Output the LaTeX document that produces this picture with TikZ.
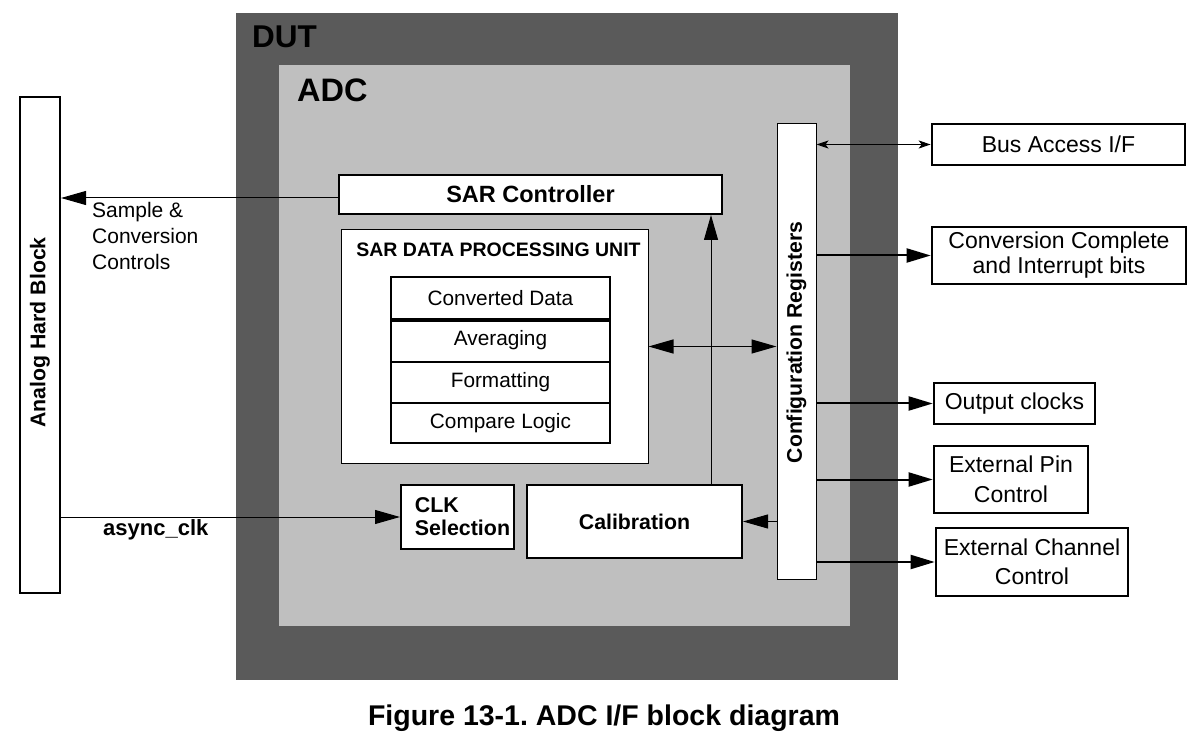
\documentclass[tikz,border=0pt]{standalone}
\usepackage{fontspec}
\setmainfont{Liberation Sans}
\usetikzlibrary{arrows.meta,calc}
\definecolor{dutgray}{HTML}{5A5A5A}
\definecolor{adcgray}{HTML}{BFBFBF}
\newcommand{\myfs}[2]{\fontsize{#1}{#2}\selectfont}
\frenchspacing
\begin{document}
\begin{tikzpicture}[x=1pt,y=-1pt,
  box/.style={draw, fill=white, inner sep=0pt, line width=2pt},
  thinbox/.style={box, line width=1pt},
  extbox/.style={box, line width=2.6pt, align=center, font=\myfs{23}{26}},
  rowbox/.style={box, line width=1.8pt, minimum width=219pt, font=\myfs{20.8}{24}},
  bigarr/.style={-{Triangle[length=25pt,width=14pt]}, line width=1pt},
  outarr/.style={-{Triangle[length=24pt,width=14pt]}, line width=2pt},
  dblarr/.style={{Triangle[length=25pt,width=14pt]}-{Triangle[length=25pt,width=14pt]}, line width=1.2pt},
  busarr/.style={{Stealth[length=12pt,width=8pt,inset=3pt]}-{Stealth[length=12pt,width=8pt,inset=3pt]}, line width=1pt},
  lbl/.style={inner sep=0pt}
]
\useasboundingbox (0,0) rectangle (1203,743);
% enclosures
\fill[dutgray] (236,13) rectangle (898,680);
\fill[adcgray] (279,65) rectangle (850,626);
\node[lbl, anchor=base west, font=\bfseries\myfs{31.5}{34}] (dutl) at (252,48) {DUT};
\node[lbl, anchor=base west, font=\bfseries\myfs{32.5}{34}] (adcl) at (297,102) {ADC};

% analog hard block
\node[box, minimum width=40pt, minimum height=496pt] (ahb) at (40,345) {};
\node[lbl, rotate=90, font=\bfseries\myfs{21.3}{24}] (ahbt) at ([yshift=12.5pt]ahb.center) {Analog Hard Block};

% SAR controller
\node[box, minimum width=383pt, minimum height=39pt, font=\bfseries\myfs{23.5}{26}] (sar) at (530.5,194.5) {SAR Controller};

% SAR data processing unit
\node[thinbox, minimum width=307pt, minimum height=233pt] (dpu) at (494.5,346.5) {};
\node[lbl, anchor=base, font=\bfseries\myfs{19.5}{22}] (dput) at (498.5,257) {SAR DATA PROCESSING UNIT};
\node[rowbox, minimum height=42pt] (conv) at (500.5,298) {Converted Data};
\node[rowbox, minimum height=43pt] (avg) at (500.5,340.5) {Averaging};
\node[rowbox, minimum height=41pt] (fmt) at (500.5,382.5) {Formatting};
\node[rowbox, minimum height=40pt] (cmp) at (500.5,423) {Compare Logic};
\draw[line width=3.5pt] (conv.south west) -- (conv.south east);

% configuration registers
\node[thinbox, minimum width=39pt, minimum height=455pt] (cfg) at (796.5,351.5) {};
\node[lbl, rotate=90, font=\bfseries\myfs{21.2}{24}] (cfgt) at ([yshift=9pt]cfg.center) {Configuration Registers};

% clk selection and calibration
\node[box, minimum width=113pt, minimum height=64pt, align=left, font=\bfseries\myfs{21.4}{23}] (clk) at (457.5,517) {\hspace*{10pt}CLK\\\hspace*{10pt}Selection};
\node[box, minimum width=215pt, minimum height=73pt, font=\bfseries\myfs{21.3}{24}] (cal) at (634.5,521.5) {Calibration};

% external boxes
\node[extbox, minimum width=253pt, minimum height=41pt] (bus) at (1058.5,144.5) {Bus Access I/F};
\node[extbox, minimum width=254pt, minimum height=57pt, font=\myfs{23}{25}] (ccb) at (1059,255.5) {Conversion Complete\\and Interrupt bits};
\node[extbox, minimum width=161pt, minimum height=41pt] (outc) at (1014.5,403.5) {Output clocks};
\node[extbox, minimum width=154pt, minimum height=67pt, font=\myfs{23}{30}] (pin) at (1011,479.5) {External Pin\\Control};
\node[extbox, minimum width=192pt, minimum height=68pt, font=\myfs{23}{29}] (chan) at (1032,562) {External Channel\\Control};

% connectors
\draw[bigarr] ([yshift=-3.5pt]sar.west) -- ([yshift=-3.5pt]sar.west -| ahb.east);
\node[lbl, anchor=north west, align=left, font=\myfs{21}{26}] (scl) at (92,202.5) {Sample \&\\Conversion\\Controls};
\draw[bigarr] (ahb.east |- clk.west) -- (clk.west);
\node[lbl, anchor=base west, font=\bfseries\myfs{22}{24}] (asl) at (103,535) {async\_clk};
\draw[dblarr] (dpu.east) -- (cfg.west |- dpu.east);
\coordinate (vup) at (711,485);
\draw[bigarr] (vup) -- (vup |- sar.south);
\draw[bigarr] (cfg.west |- cal.east) -- (cal.east);
\draw[busarr] (cfg.east |- bus.west) -- (bus.west);
\draw[outarr] (cfg.east |- ccb.west) -- (ccb.west);
\draw[outarr] (cfg.east |- outc.west) -- (outc.west);
\draw[outarr] (cfg.east |- pin.west) -- (pin.west);
\draw[outarr] (cfg.east |- chan.west) -- (chan.west);

% caption
\node[lbl, anchor=base, font=\bfseries\myfs{28.5}{32}] (cap) at (604,725) {Figure 13-1. ADC I/F block diagram};
\end{tikzpicture}
\end{document}
